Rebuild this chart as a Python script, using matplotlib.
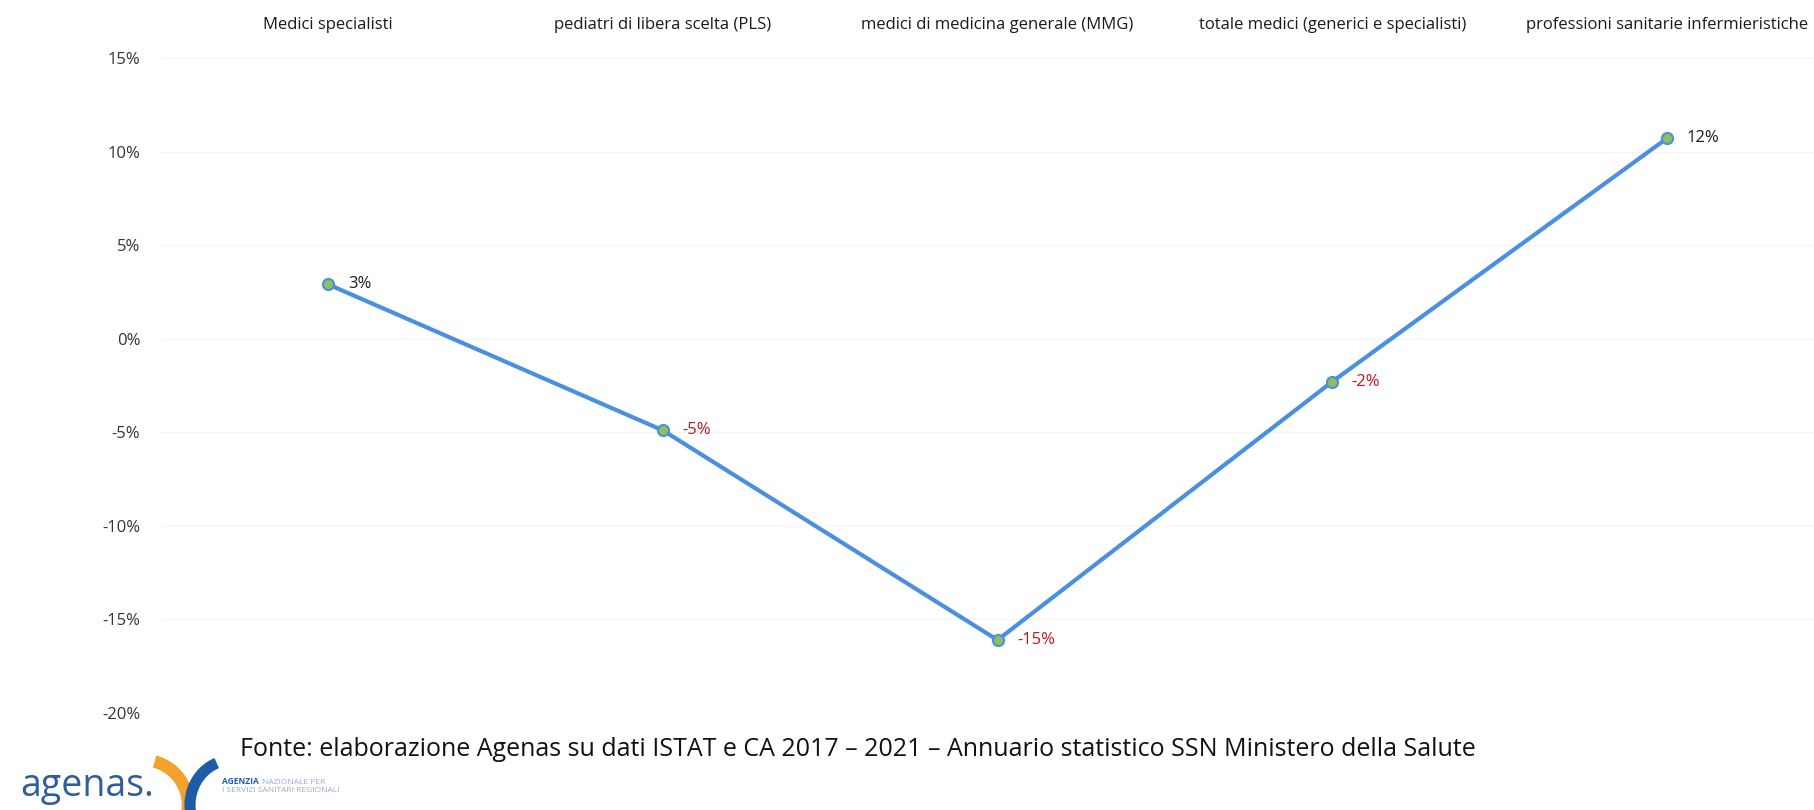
import matplotlib
matplotlib.use("Agg")
import matplotlib.pyplot as plt
from matplotlib import font_manager
from matplotlib.patches import Arc

categories = ["Medici specialisti", "pediatri di libera scelta (PLS)",
              "medici di medicina generale (MMG)",
              "totale medici (generici e specialisti)",
              "professioni sanitarie infermieristiche"]
values = [2.9, -4.9, -16.1, -2.3, 10.7]
value_labels = ["3%", "-5%", "-15%", "-2%", "12%"]
y_ticks = [15, 10, 5, 0, -5, -10, -15, -20]
source_text = ("Fonte: elaborazione Agenas su dati ISTAT e CA 2017 \u2013 2021 \u2013 "
               "Annuario statistico SSN Ministero della Salute")

available = {f.name for f in font_manager.fontManager.ttflist}
font = "Liberation Sans Narrow" if "Liberation Sans Narrow" in available else "Open Sans"
plt.rcParams['font.family'] = [font, 'DejaVu Sans']

W, H = 1814, 810
fig = plt.figure(figsize=(W / 100, H / 100), dpi=100)
ax = fig.add_axes([161 / W, 1 - 713 / H, 1 - 161 / W, (713 - 58) / H])

x = list(range(len(categories)))
ax.plot(x, values, color="#4a8fe0", lw=3.0, marker="o", ms=8,
        markerfacecolor="#8dc05a", markeredgecolor="#4a8fe0", markeredgewidth=1.5,
        solid_capstyle="round", zorder=3)

for xi, v, lab in zip(x, values, value_labels):
    ax.annotate(lab, (xi, v), xytext=(14, 0), textcoords="offset points",
                va="center", ha="left", fontsize=12,
                color="#1a1a1a" if not lab.startswith("-") else "#c0141e")

ax.set_xlim(-0.5, 4.44)
ax.set_ylim(-20, 15)
ax.set_yticks(y_ticks)
ax.set_yticklabels([f"{t}%" for t in y_ticks])
ax.yaxis.grid(True, color="#f5f5f5", lw=1)
ax.set_axisbelow(True)
ax.xaxis.tick_top()
ax.set_xticks(x)
ax.set_xticklabels(categories)
ax.tick_params(axis="x", length=0, pad=18, labelsize=12, labelcolor="#1a1a1a")
ax.tick_params(axis="y", length=0, pad=15, labelsize=12, labelcolor="#333333")
for s in ax.spines.values():
    s.set_visible(False)

fig.text(240 / W, 1 - 750 / H, source_text, fontsize=18, color="#111111",
         ha="left", va="center")

# logo
fig.text(20 / W, 1 - 786 / H, "agenas.", fontsize=27, color="#2f5e9e",
         ha="left", va="center", family=["Open Sans", "DejaVu Sans"])
lax = fig.add_axes([0, 0, 1, 1], facecolor="none")
lax.set_xlim(0, W)
lax.set_ylim(H, 0)
lax.axis("off")
lax.add_patch(Arc((143, 805), 90, 90, theta1=-75, theta2=25, lw=9, color="#f2a22a"))
lax.add_patch(Arc((232, 805), 84, 90, theta1=150, theta2=250, lw=8, color="#1f5ca8"))
fig.text(222 / W, 1 - 782 / H, "AGENZIA", fontsize=6, color="#1f5ca8",
         weight="bold", ha="left", va="center")
fig.text(262 / W, 1 - 782 / H, "NAZIONALE PER", fontsize=6, color="#9aacc8",
         ha="left", va="center")
fig.text(222 / W, 1 - 791 / H, "I SERVIZI SANITARI REGIONALI", fontsize=6, color="#9aacc8",
         ha="left", va="center")

fig.savefig("out.png", dpi=100, facecolor="white")
